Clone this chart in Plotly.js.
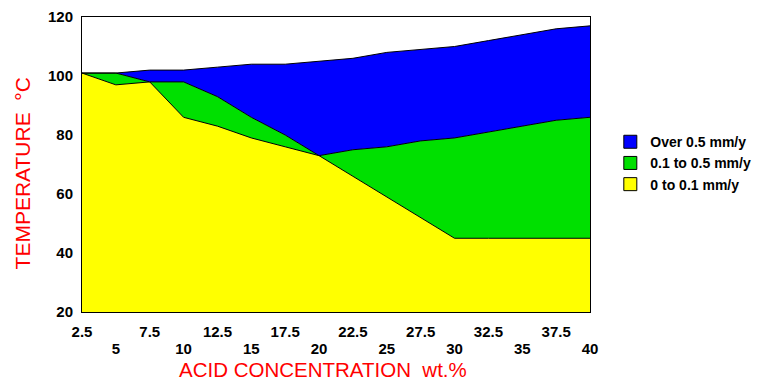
<!DOCTYPE html>
<html>
<head>
<meta charset="utf-8">
<script src="https://cdn.plot.ly/plotly-3.0.1.min.js"></script>
<style>html,body{margin:0;padding:0;background:#fff;}</style>
</head>
<body>
<div id="chart" style="width:768px;height:381px;"></div>
<script>
// Acid concentration (wt.%)
const conc = [2.5, 5, 7.5, 10, 12.5, 15, 17.5, 20, 22.5, 25, 27.5, 30, 32.5, 35, 37.5, 40];
// Upper temperature boundary of each corrosion-rate zone (°C)
const topLow  = [101, 97, 98, 86, 83, 79, 76, 73, 66, 59, 52, 45, 45, 45, 45, 45];      // 0 to 0.1 mm/y
const topMid  = [101, 101, 98, 98, 93, 86, 80, 73, 75, 76, 78, 79, 81, 83, 85, 86];     // 0.1 to 0.5 mm/y
const topHigh = [101, 101, 102, 102, 103, 104, 104, 105, 106, 108, 109, 110, 112, 114, 116, 117]; // Over 0.5 mm/y

const seriesNames = ['0 to 0.1 mm/y', '0.1 to 0.5 mm/y', 'Over 0.5 mm/y'];
const seriesColors = ['#ffff00', '#00e000', '#0000ff'];

const tickRow1 = [2.5, 7.5, 12.5, 17.5, 22.5, 27.5, 32.5, 37.5];
const tickRow2 = [5, 10, 15, 20, 25, 30, 35, 40];
const yTicks = [20, 40, 60, 80, 100, 120];

const FONT = 'Arial, "Liberation Sans", Helvetica, sans-serif';
const lineStyle = {color: '#000', width: 1};

const tops = [topLow, topMid, topHigh];
const traces = tops.map((t, i) => ({
  x: conc, y: t, type: 'scatter', mode: 'lines',
  fill: i === 0 ? 'tozeroy' : 'tonexty',
  fillcolor: seriesColors[i], line: lineStyle,
  name: seriesNames[i], showlegend: false, hoverinfo: 'skip'
}));
// legend entries (square swatches), top to bottom: high, mid, low
[2, 1, 0].forEach(i => {
  traces.push({
    x: [null], y: [null], type: 'scatter', mode: 'markers', xaxis: 'x2',
    marker: {symbol: 'square', size: 13, color: seriesColors[i], line: {color: '#000', width: 1}},
    name: seriesNames[i], showlegend: true
  });
});

const tickFont = {family: FONT, size: 15, color: '#000', weight: 'bold'};
const layout = {
  width: 768, height: 381,
  margin: {l: 82, r: 178, t: 17, b: 69},
  paper_bgcolor: '#fff', plot_bgcolor: '#fff',
  showlegend: true,
  legend: {
    x: 1.04, xanchor: 'left', y: 0.63, yanchor: 'top',
    font: {family: FONT, size: 14, color: '#000', weight: 'bold'},
    bgcolor: 'rgba(0,0,0,0)', traceorder: 'normal', itemclick: false
  },
  xaxis: {
    range: [2.5, 40], tickvals: tickRow1, ticktext: tickRow1.map(String),
    showline: true, mirror: true, linecolor: '#000', linewidth: 1,
    ticklabelstandoff: 6,
    ticks: '', showgrid: false, zeroline: false, tickfont: tickFont
  },
  xaxis2: {
    overlaying: 'x', side: 'bottom', range: [2.5, 40],
    tickvals: tickRow2, ticktext: tickRow2.map(String),
    ticklabelstandoff: 26, showline: false, ticks: '', showgrid: false, zeroline: false,
    tickfont: tickFont
  },
  yaxis: {
    range: [20, 120], tickvals: yTicks, ticktext: yTicks.map(String),
    showline: true, mirror: true, linecolor: '#000', linewidth: 1,
    ticklabelstandoff: 5,
    ticks: '', showgrid: false, zeroline: false, tickfont: tickFont,
    title: {text: 'TEMPERATURE&nbsp;&nbsp;°C&nbsp;&nbsp;&nbsp;', font: {family: FONT, size: 21, color: '#ff0000'}}
  },
  annotations: [{
    text: 'ACID CONCENTRATION&nbsp;&nbsp;wt.%',
    xref: 'paper', yref: 'paper', x: 0.4744, y: -0.194,
    xanchor: 'center', yanchor: 'middle', showarrow: false, borderpad: 0,
    font: {family: FONT, size: 20.5, color: '#ff0000'}
  }]
};

Plotly.newPlot('chart', traces, layout, {staticPlot: true, displayModeBar: false});
</script>
</body>
</html>
